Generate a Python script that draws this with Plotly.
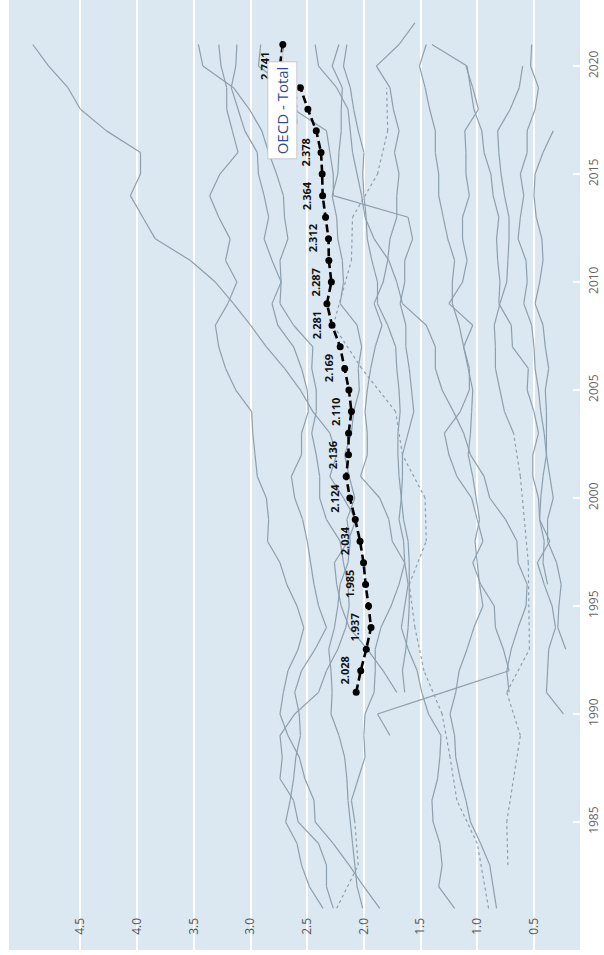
import plotly.graph_objects as go

# ---------------- data (GERD as % of GDP) ----------------
oecd_years = list(range(1991, 2022))
oecd_vals = [2.068, 2.028, 1.979, 1.937, 1.959, 1.985, 2.003, 2.034, 2.076, 2.124,
             2.156, 2.136, 2.135, 2.110, 2.132, 2.169, 2.209, 2.281, 2.326, 2.287,
             2.309, 2.312, 2.338, 2.364, 2.368, 2.378, 2.420, 2.494, 2.560, 2.741,
             2.715]
oecd_label_years = list(range(1992, 2021, 2))
oecd_name = "OECD - Total"

usa_years = list(range(1981, 2022))
usa_vals = [2.36, 2.48, 2.55, 2.59, 2.69, 2.65, 2.62, 2.60, 2.56, 2.57,
            2.61, 2.55, 2.43, 2.33, 2.40, 2.44, 2.47, 2.50, 2.54, 2.61,
            2.64, 2.55, 2.55, 2.49, 2.50, 2.55, 2.62, 2.76, 2.81, 2.73,
            2.74, 2.67, 2.70, 2.71, 2.77, 2.84, 2.90, 3.01, 3.15, 3.42, 3.46]

japan_years = list(range(1981, 2022))
japan_vals = [1.86, 2.00, 2.13, 2.27, 2.43, 2.44, 2.52, 2.57, 2.67, 2.74,
              2.71, 2.67, 2.58, 2.53, 2.59, 2.68, 2.74, 2.85, 2.84, 2.86,
              2.94, 2.96, 2.98, 2.99, 3.13, 3.22, 3.28, 3.31, 3.20, 3.12,
              3.22, 3.18, 3.28, 3.36, 3.27, 3.11, 3.16, 3.21, 3.21, 3.26, 3.28]

germany_years = list(range(1981, 2022))
germany_vals = [2.27, 2.33, 2.33, 2.40, 2.58, 2.62, 2.74, 2.72, 2.74, 2.61,
                2.40, 2.33, 2.23, 2.16, 2.13, 2.14, 2.18, 2.21, 2.33, 2.39,
                2.39, 2.42, 2.46, 2.42, 2.42, 2.46, 2.45, 2.62, 2.74, 2.73,
                2.81, 2.88, 2.84, 2.88, 2.93, 2.94, 3.05, 3.11, 3.17, 3.13, 3.12]

uk_years = [1981, 1983] + list(range(1985, 2022))
uk_vals = [2.24, 2.05,
           2.08, 2.11, 2.05, 1.99, 2.00, 1.99, 1.91, 1.90, 1.90, 1.85,
           1.76, 1.69, 1.64, 1.65, 1.69, 1.67, 1.66, 1.66, 1.61, 1.56,
           1.58, 1.60, 1.63, 1.63, 1.68, 1.64, 1.64, 1.57, 1.61, 2.27,
           2.27, 2.30, 2.33, 2.62, 2.68, 2.93, 2.91]

france_years = list(range(1981, 2022))
france_vals = [2.01, 2.06, 2.08, 2.10, 2.12, 2.14, 2.15, 2.17, 2.22, 2.29,
               2.28, 2.29, 2.31, 2.26, 2.23, 2.21, 2.14, 2.12, 2.15, 2.08,
               2.13, 2.17, 2.11, 2.09, 2.04, 2.05, 2.02, 2.06, 2.21, 2.18,
               2.19, 2.23, 2.24, 2.28, 2.23, 2.22, 2.20, 2.20, 2.19, 2.28, 2.22]

italy_years = list(range(1981, 2022))
italy_vals = [0.83, 0.86, 0.89, 0.97, 1.06, 1.10, 1.15, 1.19, 1.20, 1.24,
              1.19, 1.16, 1.09, 1.03, 0.95, 0.98, 1.00, 1.02, 0.98, 1.01,
              1.04, 1.08, 1.06, 1.05, 1.04, 1.08, 1.12, 1.16, 1.22, 1.22,
              1.20, 1.26, 1.30, 1.34, 1.34, 1.37, 1.37, 1.42, 1.46, 1.51, 1.45]

canada_years = list(range(1981, 2023))
canada_vals = [1.20, 1.34, 1.31, 1.33, 1.39, 1.40, 1.35, 1.33, 1.32, 1.43,
               1.49, 1.53, 1.61, 1.67, 1.64, 1.61, 1.64, 1.75, 1.78, 1.86,
               2.03, 1.97, 1.97, 1.99, 1.97, 1.94, 1.90, 1.84, 1.91, 1.83,
               1.79, 1.77, 1.71, 1.71, 1.69, 1.73, 1.69, 1.74, 1.77, 1.89,
               1.69, 1.55]

australia_years = [1981, 1984, 1986, 1988, 1990, 1992, 1994, 1996, 1998, 2000,
                   2002, 2004, 2006, 2008, 2011, 2013, 2015, 2017, 2019]
australia_vals = [0.90, 1.00, 1.18, 1.24, 1.31, 1.47, 1.55, 1.60, 1.45, 1.46,
                  1.66, 1.72, 2.02, 2.27, 2.11, 2.10, 1.88, 1.79, 1.80]

korea_years = list(range(1991, 2022))
korea_vals = [1.71, 1.83, 1.97, 2.13, 2.20, 2.24, 2.26, 2.14, 2.07, 2.18,
              2.30, 2.24, 2.30, 2.45, 2.56, 2.70, 2.86, 3.00, 3.15, 3.31,
              3.53, 3.84, 3.95, 4.06, 3.97, 3.97, 4.27, 4.50, 4.61, 4.78, 4.92]

china_years = list(range(1991, 2022))
china_vals = [0.72, 0.74, 0.70, 0.64, 0.57, 0.56, 0.64, 0.65, 0.75, 0.89,
              0.94, 1.06, 1.12, 1.21, 1.31, 1.37, 1.37, 1.45, 1.66, 1.71,
              1.78, 1.91, 1.99, 2.02, 2.06, 2.10, 2.12, 2.14, 2.24, 2.40, 2.43]

eu_years = list(range(1991, 2022))
eu_vals = [1.64, 1.66, 1.63, 1.61, 1.60, 1.60, 1.60, 1.61, 1.65, 1.67,
           1.69, 1.70, 1.70, 1.68, 1.69, 1.71, 1.72, 1.79, 1.88, 1.88,
           1.93, 1.97, 1.98, 2.00, 2.01, 2.00, 2.05, 2.09, 2.12, 2.18, 2.15]

russia_years = list(range(1989, 2021))
russia_vals = [1.77, 1.88, 1.30, 0.72, 0.77, 0.84, 0.85, 0.97, 1.04, 0.95,
               1.00, 1.05, 1.18, 1.25, 1.29, 1.15, 1.07, 1.07, 1.12, 1.04,
               1.25, 1.13, 1.09, 1.13, 1.13, 1.07, 1.10, 1.10, 1.11, 0.99,
               1.04, 1.10]

turkey_years = list(range(1990, 2022))
turkey_vals = [0.24, 0.39, 0.38, 0.37, 0.31, 0.34, 0.41, 0.47, 0.36, 0.45,
               0.46, 0.51, 0.51, 0.46, 0.50, 0.56, 0.55, 0.69, 0.70, 0.81,
               0.80, 0.82, 0.83, 0.81, 0.86, 0.88, 0.94, 0.96, 1.03, 1.06,
               1.09, 1.40]

mexico_years = list(range(1993, 2018))
mexico_vals = [0.22, 0.29, 0.28, 0.26, 0.30, 0.38, 0.38, 0.33, 0.36, 0.39,
               0.39, 0.39, 0.40, 0.37, 0.40, 0.42, 0.49, 0.45, 0.42, 0.43,
               0.48, 0.50, 0.49, 0.42, 0.33]

argentina_years = list(range(1996, 2022))
argentina_vals = [0.38, 0.42, 0.41, 0.45, 0.44, 0.42, 0.39, 0.41, 0.44, 0.46,
                  0.49, 0.50, 0.52, 0.59, 0.56, 0.57, 0.64, 0.62, 0.59, 0.62,
                  0.56, 0.56, 0.49, 0.46, 0.53, 0.52]

safrica_years = [1983, 1985, 1989, 1991, 1993, 1997, 2001, 2003] + list(range(2004, 2021))
safrica_vals = [0.73, 0.74, 0.62, 0.74, 0.54, 0.55, 0.62, 0.68,
                0.76, 0.80, 0.84, 0.84, 0.85, 0.80, 0.74, 0.73, 0.72, 0.72,
                0.76, 0.79, 0.81, 0.82, 0.71, 0.63, 0.60]

grey_series = [
    (usa_years, usa_vals), (japan_years, japan_vals), (germany_years, germany_vals),
    (uk_years, uk_vals), (france_years, france_vals), (italy_years, italy_vals),
    (canada_years, canada_vals), (australia_years, australia_vals),
    (korea_years, korea_vals), (china_years, china_vals), (eu_years, eu_vals),
    (russia_years, russia_vals), (turkey_years, turkey_vals),
    (mexico_years, mexico_vals), (argentina_years, argentina_vals),
    (safrica_years, safrica_vals),
]

value_ticks = [0.5, 1.0, 1.5, 2.0, 2.5, 3.0, 3.5, 4.0, 4.5]
year_ticks = [1985, 1990, 1995, 2000, 2005, 2010, 2015, 2020]

GREY = "#8d9fac"
FONT = "Open Sans"

fig = go.Figure()

# grey country lines: solid between consecutive years, dotted across gaps
for yrs, vals in grey_series:
    sx, sy, dx, dy = [], [], [], []
    for i in range(len(yrs) - 1):
        if yrs[i + 1] - yrs[i] == 1:
            sx += [vals[i], vals[i + 1], None]
            sy += [yrs[i], yrs[i + 1], None]
        else:
            dx += [vals[i], vals[i + 1], None]
            dy += [yrs[i], yrs[i + 1], None]
    if sx:
        fig.add_trace(go.Scatter(x=sx, y=sy, mode="lines",
                                 line=dict(color=GREY, width=1.2),
                                 hoverinfo="skip", showlegend=False))
    if dx:
        fig.add_trace(go.Scatter(x=dx, y=dy, mode="lines",
                                 line=dict(color=GREY, width=1.2, dash="dot"),
                                 hoverinfo="skip", showlegend=False))

# OECD total
fig.add_trace(go.Scatter(
    x=oecd_vals, y=oecd_years, mode="lines+markers",
    line=dict(color="black", width=2.6, dash="8px,4px"),
    marker=dict(color="black", size=7),
    hoverinfo="skip", showlegend=False))

annotations = []
for yr, v in zip(oecd_years, oecd_vals):
    if yr in oecd_label_years:
        annotations.append(dict(
            x=v, y=yr, xref="x", yref="y", text=f"{v:.3f}",
            showarrow=False, textangle=-90, xshift=-16,
            font=dict(family=FONT, size=11, color="#111", weight="bold")))

# hover-style label on last point
annotations.append(dict(
    x=oecd_vals[-1], y=oecd_years[-1], xref="x", yref="y",
    text=oecd_name, textangle=-90, showarrow=True, arrowhead=0,
    arrowwidth=1, arrowcolor="#c9c9c9", ax=0, ay=66, standoff=4,
    bgcolor="white", bordercolor="#c9c9c9", borderwidth=1, borderpad=4,
    font=dict(family=FONT, size=15, color="#2b4c8c")))

fig.update_layout(
    width=604, height=955,
    margin=dict(l=9, r=24, t=0, b=5),
    plot_bgcolor="#dce8f1", paper_bgcolor="white",
    showlegend=False,
    font=dict(family=FONT, size=12, color="#555"),
    annotations=annotations,
    xaxis=dict(range=[5.13, 0.094], tickvals=value_ticks,
               ticktext=[f"{t:.1f}" for t in value_ticks],
               tickangle=-90, ticklabelposition="inside", ticklabelstandoff=8,
               tickfont=dict(family=FONT, size=12, color="#555"),
               showgrid=True, gridcolor="white", gridwidth=1.5,
               zeroline=False, showline=False, ticks=""),
    yaxis=dict(range=[1979.07, 2023.06], tickvals=year_ticks,
               side="right", tickangle=-90, ticklabelstandoff=5,
               ticks="inside", ticklen=7, tickwidth=2, tickcolor="white",
               tickfont=dict(family=FONT, size=12, color="#666"),
               showgrid=False, zeroline=False, showline=False),
)

fig.write_html("out.html",
               config={"displayModeBar": False},
               post_script="document.body.style.margin='0';document.body.style.overflow='hidden';")
